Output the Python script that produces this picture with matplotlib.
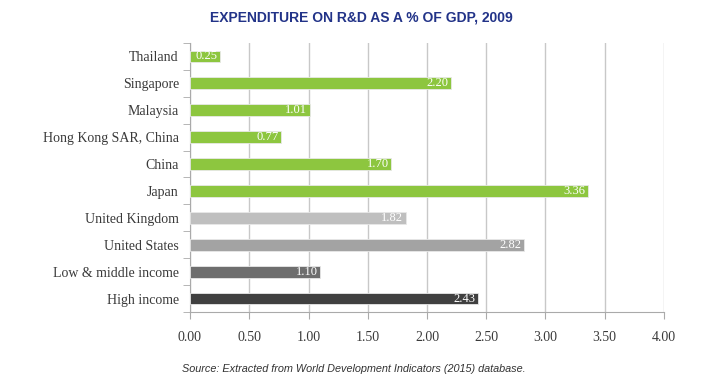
import matplotlib
matplotlib.use("Agg")
import matplotlib.pyplot as plt
import numpy as np

# data, top to bottom as shown
categories = ["Thailand", "Singapore", "Malaysia", "Hong Kong SAR, China", "China",
              "Japan", "United Kingdom", "United States", "Low & middle income", "High income"]
values = [0.25, 2.20, 1.01, 0.77, 1.70, 3.36, 1.82, 2.82, 1.10, 2.43]
bar_colors = ["#8DC63F"] * 6 + ["#BFBFBF", "#A3A3A3", "#6E6E6E", "#404040"]
xticks = [0.0, 0.5, 1.0, 1.5, 2.0, 2.5, 3.0, 3.5, 4.0]

fig = plt.figure(figsize=(7.22, 3.82), dpi=100)
ax = fig.add_axes([190 / 722, 1 - 312 / 382, 474 / 722, 269 / 382])

y = np.arange(len(categories))
ax.barh(y, values, height=0.44, color=bar_colors, edgecolor="#E8E8E8", linewidth=0.6, zorder=3)

# value labels inside the bar ends
for yi, v in zip(y, values):
    ax.text(v - 0.02, yi, f"{v:.2f}", ha="right", va="center", color="white",
            fontsize=9, family="Liberation Serif", zorder=4)

ax.set_xlim(0, 4.0)
ax.set_ylim(len(categories) - 0.5, -0.5)
ax.set_xticks(xticks)
ax.set_xticklabels([f"{t:.2f}" for t in xticks], family="Liberation Serif", fontsize=10, color="#3A3A3A")
ax.set_yticks(y)
ax.set_yticklabels(categories, family="Liberation Serif", fontsize=10, color="#3A3A3A")
ax.set_yticks(np.arange(len(categories) + 1) - 0.5, minor=True)
ax.tick_params(axis="y", which="major", length=0, pad=8)
ax.tick_params(axis="y", which="minor", length=5, color="#AAAAAA")
ax.tick_params(axis="x", length=5, color="#AAAAAA", pad=9)

ax.grid(axis="x", color="#C8C8C8", linewidth=1, zorder=0)
for s in ["top", "right"]:
    ax.spines[s].set_visible(False)
for s in ["left", "bottom"]:
    ax.spines[s].set_color("#AAAAAA")

fig.text(0.5, 1 - 18 / 382, "EXPENDITURE ON R&D AS A % OF GDP, 2009", ha="center", va="center",
         fontsize=10, fontweight="bold", color="#223388", family="Liberation Sans")
fig.text(182 / 722, 1 - 369 / 382, "Source: Extracted from World Development Indicators (2015) database.",
         ha="left", va="center", fontsize=7.8, style="italic", color="#333333", family="Liberation Sans")

fig.savefig("out.png", dpi=100)
